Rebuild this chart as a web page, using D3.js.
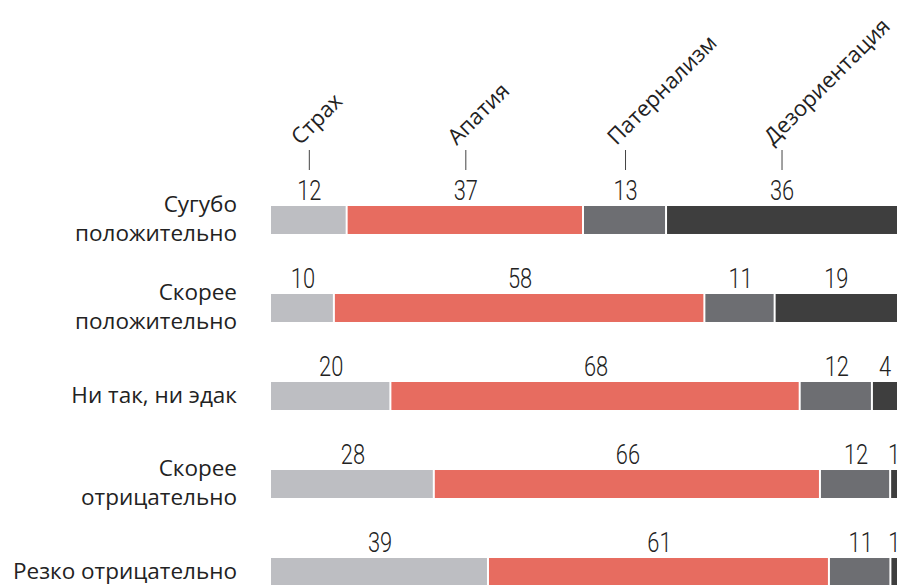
<!DOCTYPE html>
<html>
<head>
<meta charset="utf-8">
<script src="https://cdn.jsdelivr.net/npm/d3@7"></script>
<style>
  body { margin: 0; background: #fff; }
  svg { display: block; }
</style>
</head>
<body>
<svg width="901" height="585"></svg>
<script>
// data
var series = ["Страх", "Апатия", "Патернализм", "Дезориентация"];
var rows = [
    ["Сугубо", "положительно"],
    ["Скорее", "положительно"],
    ["Ни так, ни эдак"],
    ["Скорее", "отрицательно"],
    ["Резко отрицательно"]
];
var values = [
    [12, 37, 13, 36],
    [10, 58, 11, 19],
    [20, 68, 12, 4],
    [28, 66, 12, 1],
    [39, 61, 11, 1]
];
var colors = ["#bdbec2", "#e76c60", "#6d6e72", "#3e3e3e"];

var svg = d3.select("svg");
var left = 271, right = 897;
var labelFont = "'Open Sans', Lato, sans-serif";

var y = d3.scaleBand()
    .domain(d3.range(rows.length))
    .range([206, 586])
    .paddingInner(0.682)
    .paddingOuter(0);

var bw = y.bandwidth();

// build segments, each row stretched to full width
var rowData = values.map(function (vals, r) {
    var total = d3.sum(vals);
    var x = d3.scaleLinear().domain([0, total]).range([left, right]);
    var acc = 0;
    var segs = vals.map(function (v, i) {
        var s = {row: r, i: i, v: v, x0: x(acc), x1: x(acc + v)};
        acc += v;
        return s;
    });
    return segs;
});

var g = svg.append("g");

rowData.forEach(function (segs, r) {
    var rg = g.append("g");
    rg.selectAll("rect")
        .data(segs)
        .enter()
        .append("rect")
        .attr("x", function (d) { return d.x0; })
        .attr("y", y(r))
        .attr("width", function (d) { return d.i < segs.length - 1 ? Math.max(0, d.x1 - d.x0 - 2) : d.x1 - d.x0; })
        .attr("height", bw)
        .style("fill", function (d) { return colors[d.i]; });

    // condensed numbers: squeeze Roboto horizontally
    rg.selectAll("text.val")
        .data(segs)
        .enter()
        .append("text")
        .attr("class", "val")
        .attr("transform", function (d) {
            var cx = Math.min((d.x0 + d.x1) / 2, 895);
            return "translate(" + cx + "," + (y(r) - 6) + ") scale(0.78,1)";
        })
        .attr("text-anchor", "middle")
        .style("font-family", "Roboto, 'DejaVu Sans'")
        .style("font-weight", 300)
        .style("font-size", "28px")
        .style("fill", "#222")
        .text(function (d) { return d.v; });

    // row label
    var cy = y(r) + bw / 2;
    var lines = rows[r];
    var t = rg.append("text")
        .attr("text-anchor", "end")
        .style("font-family", labelFont)
        .style("font-size", "22.5px")
        .style("fill", "#222");
    lines.forEach(function (line, k) {
        t.append("tspan")
            .attr("x", 237)
            .attr("y", lines.length === 1 ? cy + 7 : cy - 8 + k * 29)
            .text(line);
    });
});

// series labels with ticks over the first row
var first = rowData[0];
var hg = svg.append("g");
hg.selectAll("line")
    .data(first)
    .enter()
    .append("line")
    .attr("x1", function (d) { return (d.x0 + d.x1) / 2; })
    .attr("x2", function (d) { return (d.x0 + d.x1) / 2; })
    .attr("y1", 150)
    .attr("y2", 170)
    .style("stroke", "#444")
    .style("stroke-width", "1px");

hg.selectAll("text")
    .data(first)
    .enter()
    .append("text")
    .attr("transform", function (d) {
        return "translate(" + ((d.x0 + d.x1) / 2 - 9) + ",146) rotate(-45)";
    })
    .style("font-family", labelFont)
    .style("font-size", "22px")
    .style("fill", "#222")
    .text(function (d) { return series[d.i]; });
</script>
</body>
</html>
